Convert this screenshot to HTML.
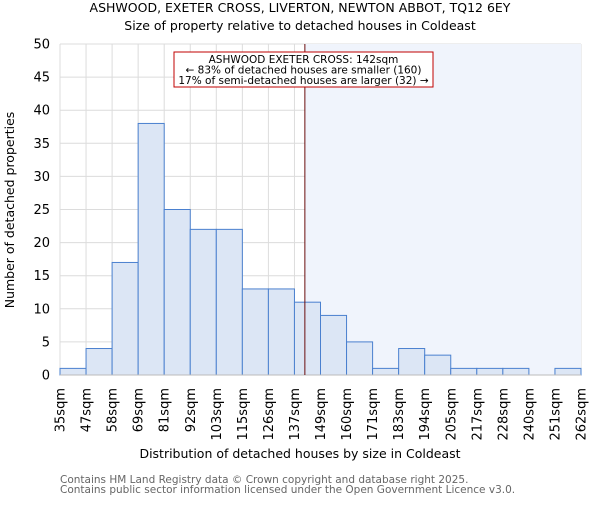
<!DOCTYPE html>
<html><head><meta charset="utf-8"><style>
body{margin:0;background:#fff;}
svg{font-family:"DejaVu Sans","Liberation Sans",sans-serif;}
</style></head><body>
<svg id="chart" width="600" height="500" viewBox="0 0 600 500">
<text x="300" y="12" text-anchor="middle" font-size="12.5" fill="#000">ASHWOOD, EXETER CROSS, LIVERTON, NEWTON ABBOT, TQ12 6EY</text>
<text x="300" y="30" text-anchor="middle" font-size="12.5" fill="#000">Size of property relative to detached houses in Coldeast</text>
<g id="grid"></g>
<rect id="shade" fill="#f0f4fc"></rect>
<g id="bars"></g>
<g id="axes"></g>
<text x="300" y="458" text-anchor="middle" font-size="12.5">Distribution of detached houses by size in Coldeast</text>
<text transform="translate(14,210) rotate(-90)" text-anchor="middle" font-size="12.5">Number of detached properties</text>
<text x="60" y="483" font-size="10.5" fill="#666">Contains HM Land Registry data © Crown copyright and database right 2025.</text>
<text x="60" y="493" font-size="10.5" fill="#666">Contains public sector information licensed under the Open Government Licence v3.0.</text>
</svg>
<script>
const categories=["35sqm","47sqm","58sqm","69sqm","81sqm","92sqm","103sqm","115sqm","126sqm","137sqm","149sqm","160sqm","171sqm","183sqm","194sqm","205sqm","217sqm","228sqm","240sqm","251sqm","262sqm"];
const counts=[1,4,17,38,25,22,22,13,13,11,9,5,1,4,3,1,1,1,0,1];
const yTicks=[0,5,10,15,20,25,30,35,40,45,50];
const markerBin=9.4;
const NS="http://www.w3.org/2000/svg";
const L=60,R=581,T=44,B=375,n=counts.length,bw=(R-L)/n;
const xs=i=>L+i*bw, ys=v=>B-(v/50)*(B-T);
function mk(tag,attrs,parent){const e=document.createElementNS(NS,tag);for(const k in attrs)e.setAttribute(k,attrs[k]);parent.appendChild(e);return e;}
const grid=document.getElementById('grid'),bars=document.getElementById('bars'),axes=document.getElementById('axes');
yTicks.forEach(v=>{const g=mk('line',{x1:L,x2:R,y1:ys(v),y2:ys(v),stroke:'#dcdcdc','stroke-width':1},grid);


const t=mk('text',{x:L-10,y:ys(v)+4.5,'text-anchor':'end','font-size':13},axes);t.textContent=v;

});
categories.forEach((c,i)=>{const g=mk('line',{x1:xs(i),x2:xs(i),y1:T,y2:B,stroke:'#dcdcdc','stroke-width':1},grid);


const t=mk('text',{transform:`translate(${xs(i)+4.5},${B+13}) rotate(-90)`,'text-anchor':'end','font-size':13},axes);t.textContent=c;

});
const mx=xs(markerBin);
const sh=document.getElementById('shade');sh.setAttribute('x',mx);sh.setAttribute('y',T);sh.setAttribute('width',R-mx);sh.setAttribute('height',B-T);
counts.forEach((v,i)=>{const r=mk('rect',{x:xs(i),y:ys(v),width:bw,height:B-ys(v),fill:'#dce6f5',stroke:'#4a80cf','stroke-width':1},bars);

});
const ax=mk('line',{x1:L,x2:R,y1:B,y2:B,stroke:'#bbb'},axes);


const ml=mk('line',{x1:mx,x2:mx,y1:T,y2:B,stroke:'#6a0d0d','stroke-width':1},axes);


const box=mk('rect',{x:174,y:52,width:259,height:35,fill:'#fff',stroke:'#c00000','stroke-width':1},axes);


["ASHWOOD EXETER CROSS: 142sqm","← 83% of detached houses are smaller (160)","17% of semi-detached houses are larger (32) →"].forEach((s,k)=>{
const t=mk('text',{x:303.5,y:63+k*10.5,'text-anchor':'middle','font-size':10.5},axes);t.textContent=s;

});
</script>
</body></html>
